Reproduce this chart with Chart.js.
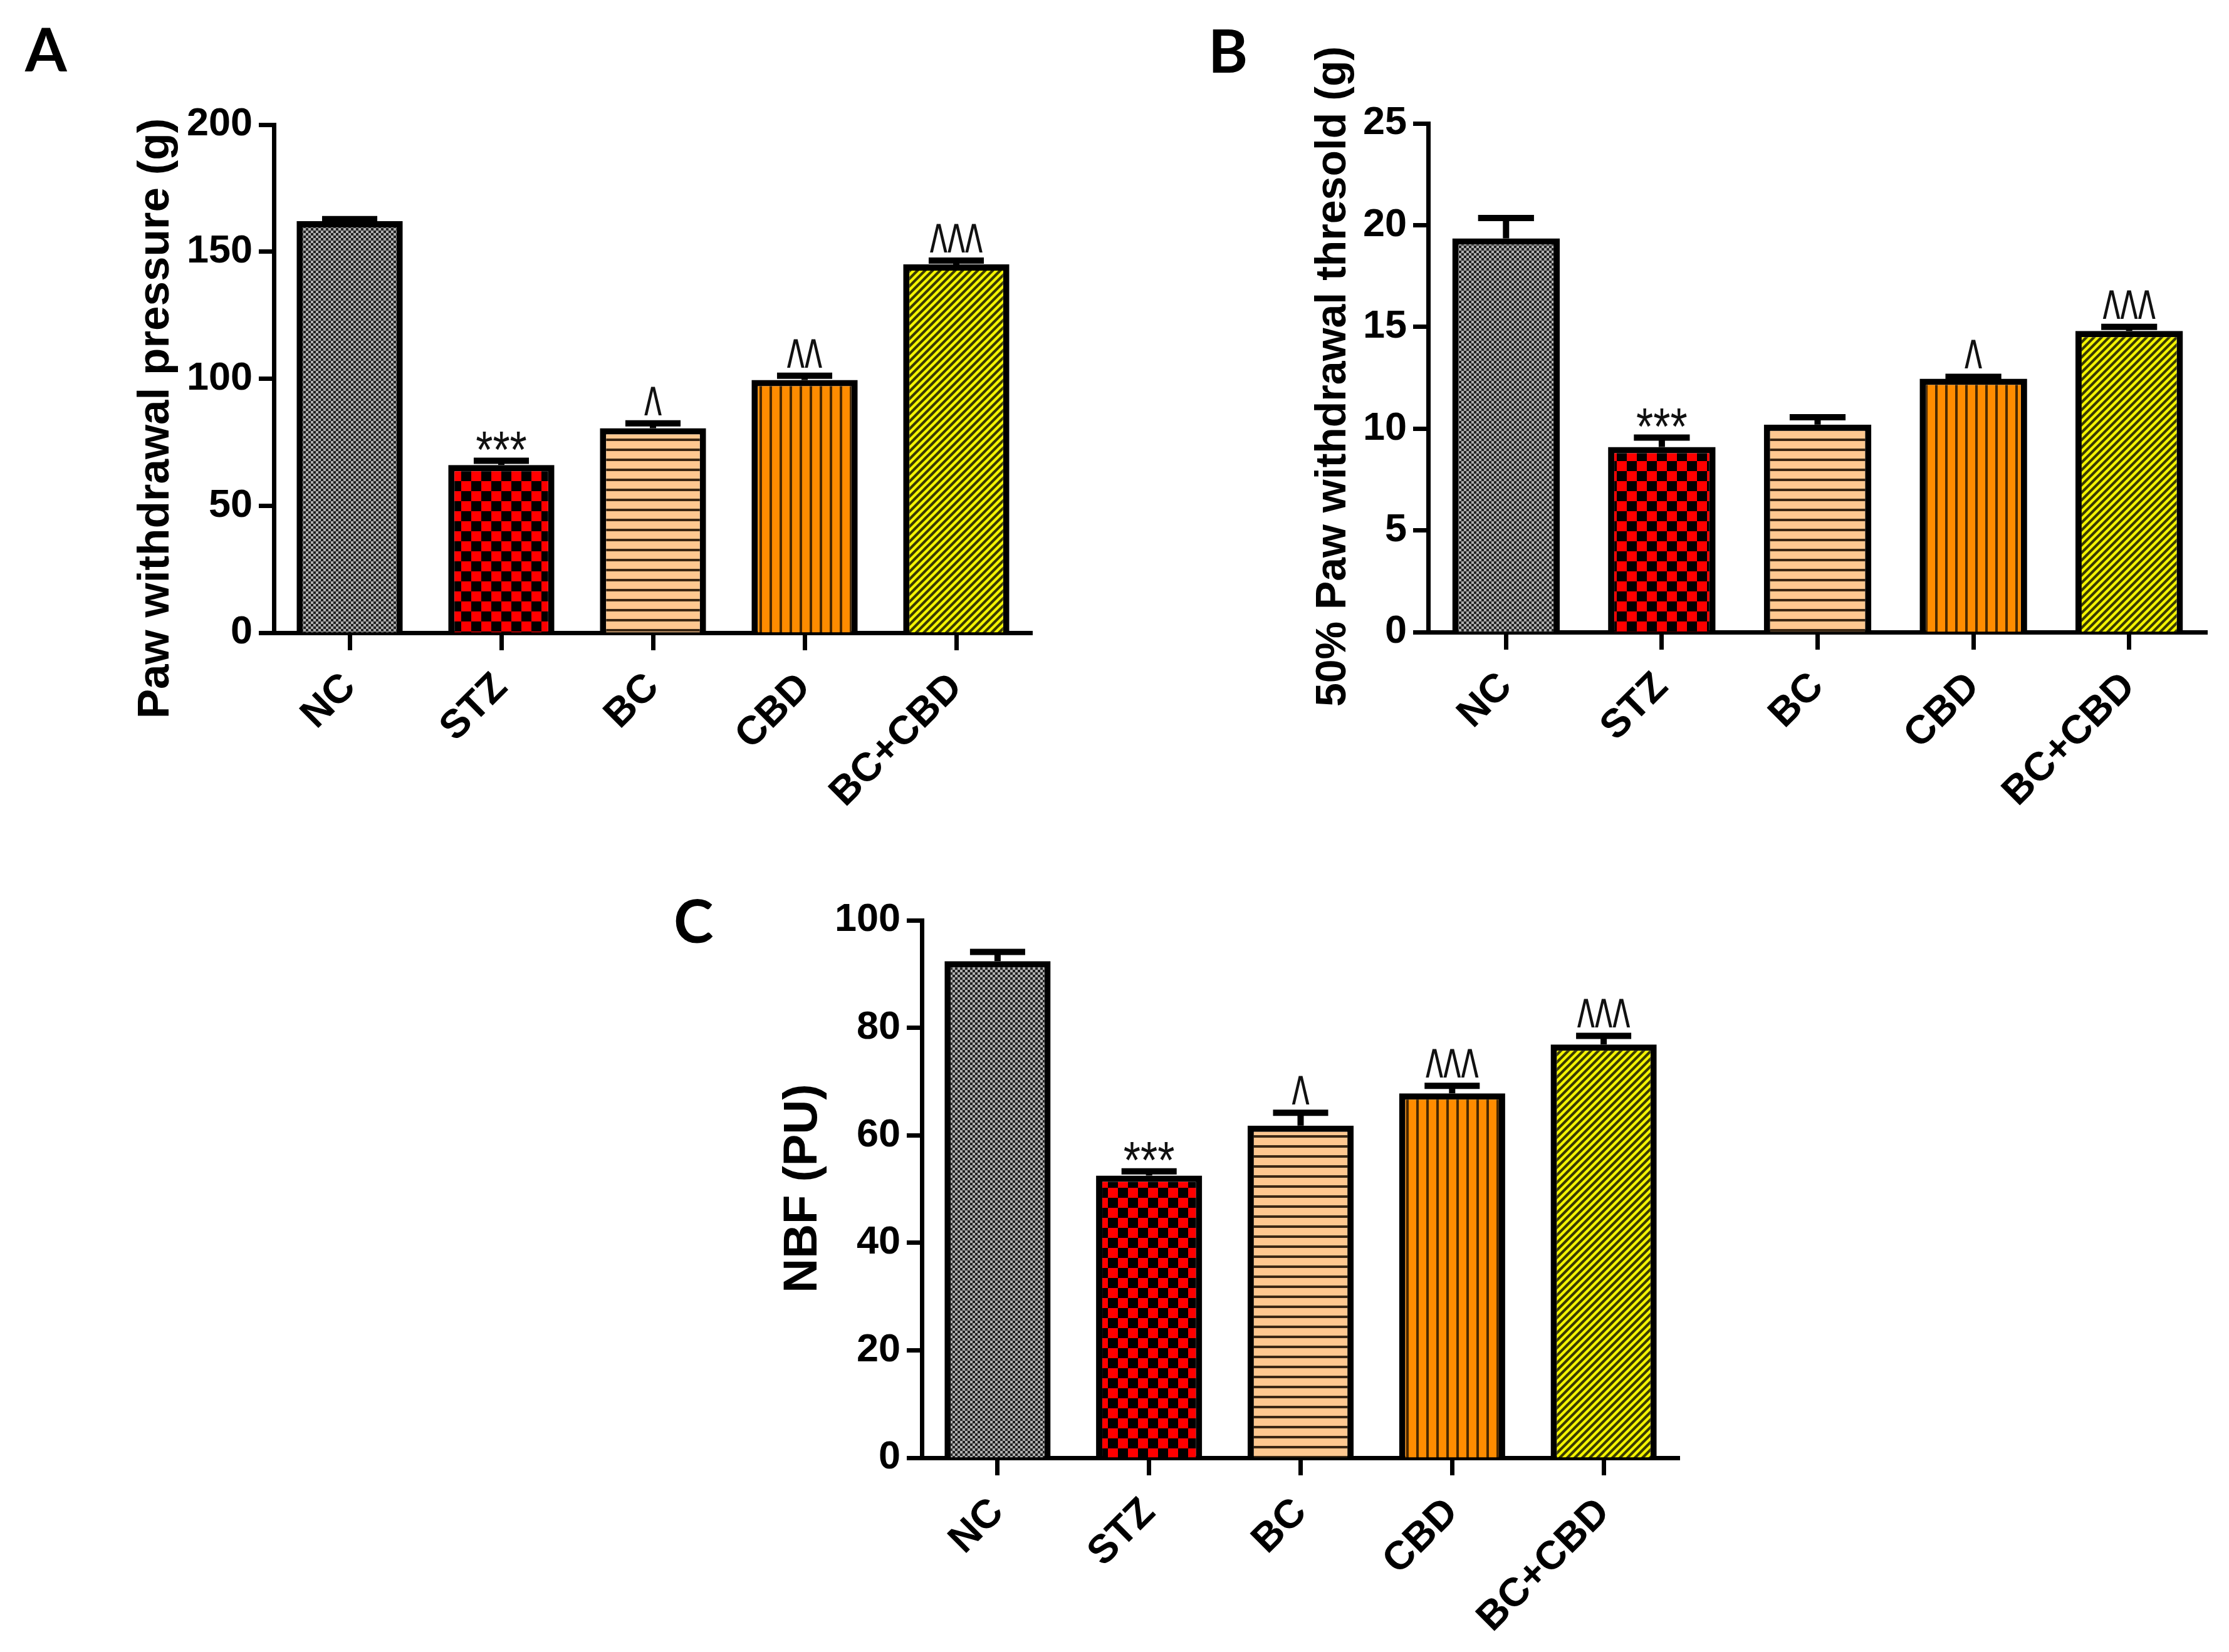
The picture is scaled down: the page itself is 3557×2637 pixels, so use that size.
<!DOCTYPE html>
<html>
<head>
<meta charset="utf-8">
<script src="https://cdn.jsdelivr.net/npm/chart.js@4.4.1/dist/chart.umd.min.js"></script>
<style>
  html, body { margin: 0; padding: 0; background: #fff; }
  #page { position: relative; width: 3557px; height: 2637px; overflow: hidden; background: #fff; }
  canvas { position: absolute; }
</style>
</head>
<body>
<div id="page">
  <canvas id="panelA" width="1780" height="1320" style="left:0px;top:0px;width:1780px;height:1320px"></canvas>
  <canvas id="panelB" width="1777" height="1320" style="left:1780px;top:0px;width:1777px;height:1320px"></canvas>
  <canvas id="panelC" width="1780" height="1317" style="left:1000px;top:1320px;width:1780px;height:1317px"></canvas>
</div>
<script>
// data
const groups = ['NC', 'STZ', 'BC', 'CBD', 'BC+CBD'];

const pressureMean = [162, 66, 80.5, 99.5, 145];
const pressureSem = [0.8, 1.7, 1.9, 1.7, 1.5];
const pressureSig = ['', '***', '^', '^^', '^^^'];
const pressureTicks = [0, 50, 100, 150, 200];

const thresholdMean = [19.35, 9.1, 10.2, 12.45, 14.8];
const thresholdSem = [1.0, 0.46, 0.36, 0.1, 0.2];
const thresholdSig = ['', '***', '', '^', '^^^'];
const thresholdTicks = [0, 5, 10, 15, 20, 25];

const nbfMean = [92.4, 52.5, 61.8, 67.8, 76.9];
const nbfSem = [1.7, 0.8, 2.4, 1.4, 1.6];
const nbfSig = ['', '***', '^', '^^^', '^^^'];
const nbfTicks = [0, 20, 40, 60, 80, 100];

const ARIAL = '"Liberation Sans", Arial, sans-serif';
const NARROW = '"Liberation Sans Narrow", "Liberation Sans", Arial, sans-serif';

// fill patterns for the five groups
function makePattern(kind) {
    const c = document.createElement('canvas');
    const g = c.getContext('2d');
    if (kind === 'gray') {
        c.width = c.height = 8;
        g.fillStyle = '#222'; g.fillRect(0, 0, 8, 8);
        g.fillStyle = '#b0b0b0'; g.fillRect(0, 0, 4, 4); g.fillRect(4, 4, 4, 4);
    } else if (kind === 'red') {
        c.width = c.height = 32;
        g.fillStyle = '#ff0000'; g.fillRect(0, 0, 32, 32);
        g.fillStyle = '#000'; g.fillRect(16, 0, 16, 16); g.fillRect(0, 16, 16, 16);
    } else if (kind === 'peach') {
        c.width = c.height = 16;
        g.fillStyle = '#ffc890'; g.fillRect(0, 0, 16, 16);
        g.fillStyle = '#3c2814'; g.fillRect(0, 12, 16, 4);
    } else if (kind === 'orange') {
        c.width = c.height = 16;
        g.fillStyle = '#ff8c00'; g.fillRect(0, 0, 16, 16);
        g.fillStyle = '#4a2800'; g.fillRect(12, 0, 4, 16);
    } else {
        c.width = c.height = 12;
        g.fillStyle = '#f4f400'; g.fillRect(0, 0, 12, 12);
        g.strokeStyle = '#3a3a00'; g.lineWidth = 4.2;
        g.beginPath();
        for (const o of [-12, 0, 12]) { g.moveTo(o - 2, 14); g.lineTo(o + 14, -2); }
        g.stroke();
    }
    return g.createPattern(c, 'repeat');
}

function overlay(means, sems, marks, title, area) {
    return {
        id: 'overlay',
        afterDatasetsDraw(chart) {
            const ctx = chart.ctx;
            const yScale = chart.scales.y;
            const meta = chart.getDatasetMeta(0);
            meta.data.forEach((bar, i) => {
                const top = yScale.getPixelForValue(means[i] + sems[i]);
                const half = bar.width * 0.26;
                ctx.save();
                ctx.strokeStyle = '#000';
                ctx.lineWidth = 10;
                ctx.beginPath();
                ctx.moveTo(bar.x, bar.y);
                ctx.lineTo(bar.x, top);
                ctx.moveTo(bar.x - half, top);
                ctx.lineTo(bar.x + half, top);
                ctx.stroke();
                const mark = marks[i];
                if (mark) {
                    const star = mark[0] === '*';
                    ctx.font = (star ? '70px ' : '60px ') + ARIAL;
                    ctx.fillStyle = '#111';
                    ctx.textAlign = 'center';
                    ctx.textBaseline = 'alphabetic';
                    const sy = star ? 1.2 : 2.1;
                    const m = ctx.measureText(mark);
                    const bottom = top - 5 - (star ? 12 : 8);
                    ctx.translate(bar.x, bottom - sy * m.actualBoundingBoxDescent);
                    ctx.scale(1, sy);
                    ctx.fillText(mark, 0, 0);
                }
                ctx.restore();
            });
        },
        afterDraw(chart) {
            const ctx = chart.ctx;
            ctx.save();
            ctx.fillStyle = '#000';
            ctx.font = 'bold 96px Lato, "Open Sans", sans-serif';
            ctx.textBaseline = 'alphabetic';
            ctx.fillText(area.letter, area.letterPos[0], area.letterPos[1]);
            // y-axis title
            ctx.font = 'bold ' + area.titleSize + 'px ' + ARIAL;
            ctx.textAlign = 'center';
            ctx.textBaseline = 'middle';
            ctx.translate(area.titlePos[0], area.titlePos[1]);
            ctx.rotate(-Math.PI / 2);
            ctx.fillText(title, 0, 0);
            ctx.restore();
        }
    };
}

function drawPanel(id, means, sems, marks, tickVals, title, area) {
    const canvas = document.getElementById(id);
    const W = canvas.width, H = canvas.height;
    const padL = 100;

    return new Chart(canvas.getContext('2d'), {
        type: 'bar',
        data: {
            labels: groups,
            datasets: [{
                data: means,
                backgroundColor: ['gray', 'red', 'peach', 'orange', 'yellow'].map(makePattern),
                borderColor: '#000',
                borderWidth: 10,
                borderSkipped: 'start',
                categoryPercentage: 1,
                barPercentage: area.barPct
            }]
        },
        options: {
            responsive: false,
            animation: false,
            devicePixelRatio: 1,
            layout: { padding: { left: padL, top: area.top, right: W - area.right, bottom: 0 } },
            plugins: { legend: { display: false }, tooltip: { enabled: false } },
            scales: {
                x: {
                    z: 1,
                    grid: { drawOnChartArea: false, offset: false, tickLength: 28, tickWidth: 7, tickColor: '#000' },
                    border: { display: true, width: 7, color: '#000' },
                    ticks: {
                        color: '#000', autoSkip: false, maxRotation: 45, minRotation: 45, padding: 22,
                        font: { family: ARIAL, size: 64, weight: 'bold' }
                    },
                    afterFit(s) { s.height = H - area.bottom; }
                },
                y: {
                    z: 1,
                    min: tickVals[0],
                    max: tickVals[tickVals.length - 1],
                    grid: { drawOnChartArea: false, tickLength: 24, tickWidth: 7, tickColor: '#000' },
                    border: { display: true, width: 7, color: '#000' },
                    ticks: { color: '#000', padding: 10, font: { family: NARROW, size: 63, weight: 'bold' } },
                    afterBuildTicks(s) { s.ticks = tickVals.map(v => ({ value: v })); },
                    afterFit(s) { s.width = area.left - padL; }
                }
            }
        },
        plugins: [overlay(means, sems, marks, title, area)]
    });
}

drawPanel('panelA', pressureMean, pressureSem, pressureSig, pressureTicks, 'Paw withdrawal pressure (g)',
    { left: 437, top: 199, right: 1647, bottom: 1010, titlePos: [249, 668], titleSize: 71, barPct: 0.70,
      letter: 'A', letterPos: [40, 114] });

drawPanel('panelB', thresholdMean, thresholdSem, thresholdSig, thresholdTicks, '50% Paw withdrawal thresold (g)',
    { left: 499, top: 197, right: 1742, bottom: 1009, titlePos: [348, 601], titleSize: 68, barPct: 0.69,
      letter: 'B', letterPos: [148, 116] });

drawPanel('panelC', nbfMean, nbfSem, nbfSig, nbfTicks, 'NBF (PU)',
    { left: 471, top: 149, right: 1680, bottom: 1007, titlePos: [282, 577], titleSize: 76, barPct: 0.70,
      letter: 'C', letterPos: [75, 185] });
</script>
</body>
</html>
